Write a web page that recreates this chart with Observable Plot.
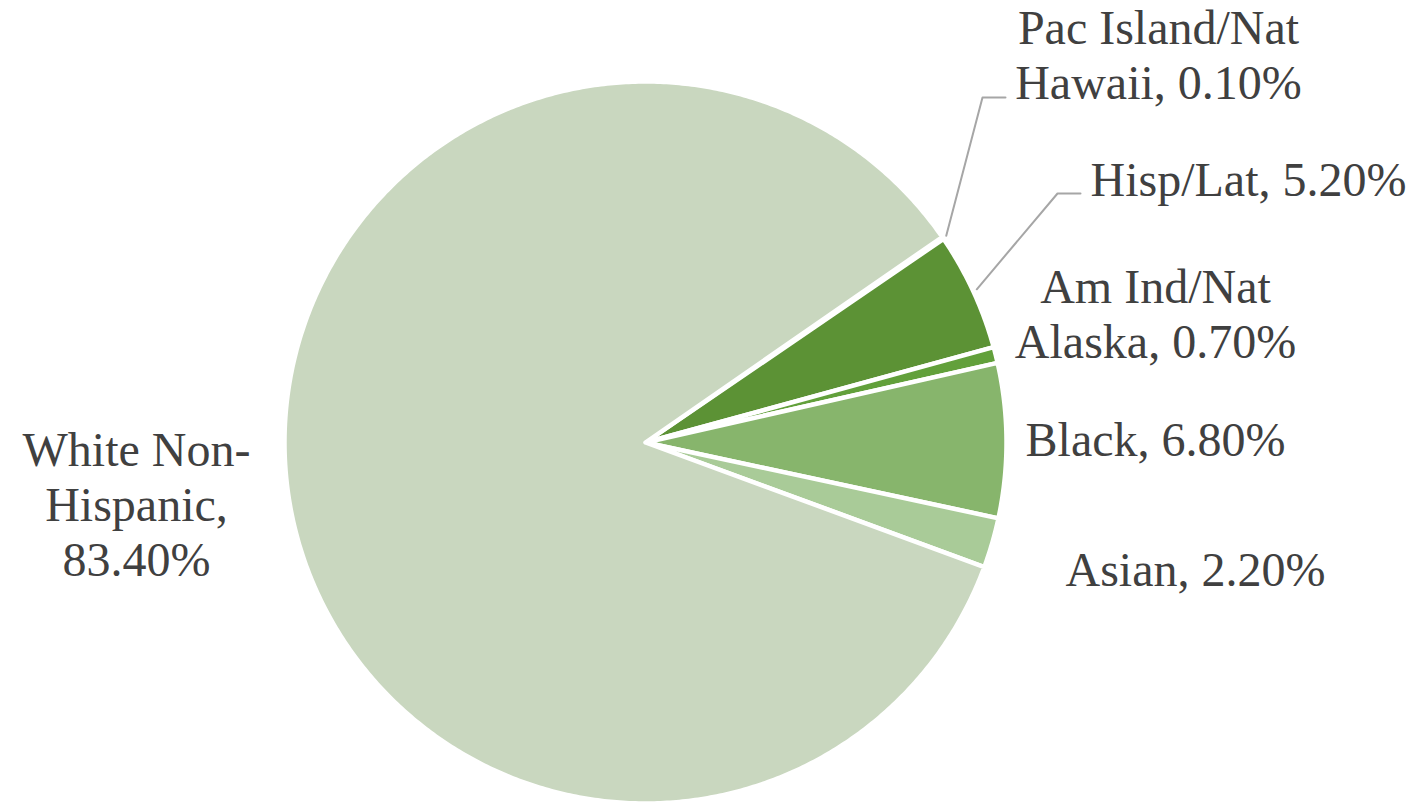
<!DOCTYPE html>
<html>
<head>
<meta charset="utf-8">
<script src="https://cdn.jsdelivr.net/npm/d3@7"></script>
<script src="https://cdn.jsdelivr.net/npm/@observablehq/plot@0.6"></script>
<style>
  html, body { margin: 0; padding: 0; background: #ffffff; }
  #chart svg { display: block; }
</style>
</head>
<body>
<div id="chart"></div>
<script>
// ---- data ----
const categories = ["Pac Island/Nat Hawaii", "Hisp/Lat", "Am Ind/Nat Alaska", "Black", "Asian", "White Non-Hispanic"];
const values = [0.1, 5.2, 0.7, 6.8, 2.2, 83.4];
const labelNames = ["Pac Island/Nat\nHawaii,", "Hisp/Lat,", "Am Ind/Nat\nAlaska,", "Black,", "Asian,", "White Non-\nHispanic,\n"];
const sliceColors = ["#4a7a2c", "#5c9235", "#62a03b", "#87b56c", "#a9cb98", "#c9d7bf"];

// ---- layout (pixels) ----
const W = 1416, H = 802;
const cx = 645, cy = 442, R = 361;
const startAngle = 55.3; // degrees clockwise from 12 o'clock
// last-line baseline anchor of each label
const labelAnchor = [[1158, 98], [1248, 195], [1155, 357], [1155, 455], [1195, 585], [136, 575]];
// leader lines: elbow + end (only for the two top slices)
const leaderLayout = {0: [[982, 97], [1005, 97]], 1: [[1057, 193], [1080, 193]]};

// ---- build slices ----
const total = d3.sum(values);
let acc = startAngle;
const slices = categories.map((c, i) => {
  const a0 = acc, a1 = acc + values[i] / total * 360;
  acc = a1;
  return {c, i, a0, a1, mid: (a0 + a1) / 2};
});
const rad = (a) => a * Math.PI / 180;
const pts = [];
for (const s of slices) {
  pts.push({c: s.c, x: 0, y: 0});
  const n = Math.max(2, Math.ceil((s.a1 - s.a0) / 0.5));
  for (let k = 0; k <= n; k++) {
    const a = rad(s.a0 + (s.a1 - s.a0) * k / n);
    pts.push({c: s.c, x: R * Math.sin(a), y: R * Math.cos(a)});
  }
  pts.push({c: s.c, x: 0, y: 0});
}

const labels = slices.map((s, i) => {
  const name = labelNames[i];
  const pct = values[i].toFixed(2) + "%";
  const text = name.endsWith("\n") ? name + pct : name + " " + pct;
  return {text, x: labelAnchor[i][0] - cx, y: cy - labelAnchor[i][1]};
});

const leaders = [];
for (const key of Object.keys(leaderLayout)) {
  const s = slices[+key];
  const a = rad(s.mid);
  leaders.push({k: key, x: (R + 4) * Math.sin(a), y: (R + 4) * Math.cos(a)});
  for (const [px, py] of leaderLayout[key]) leaders.push({k: key, x: px - cx, y: cy - py});
}

const chart = Plot.plot({
  width: W,
  height: H,
  margin: 0,
  style: {background: "#ffffff", fontFamily: "'Liberation Serif', 'Times New Roman', serif"},
  x: {domain: [-cx, W - cx], axis: null},
  y: {domain: [-(H - cy), cy], axis: null},
  color: {domain: categories, range: sliceColors},
  marks: [
    Plot.line(pts, {x: "x", y: "y", z: "c", fill: "c", stroke: "#ffffff", strokeWidth: 4.5, strokeLinejoin: "round"}),
    Plot.line(leaders, {x: "x", y: "y", z: "k", stroke: "#a6a6a6", strokeWidth: 2}),
    Plot.text(labels, {x: "x", y: "y", text: "text", fontSize: 48, lineAnchor: "bottom", lineHeight: 1.14, textAnchor: "middle", fill: "#404040"})
  ]
});
document.getElementById("chart").appendChild(chart);
</script>
</body>
</html>
